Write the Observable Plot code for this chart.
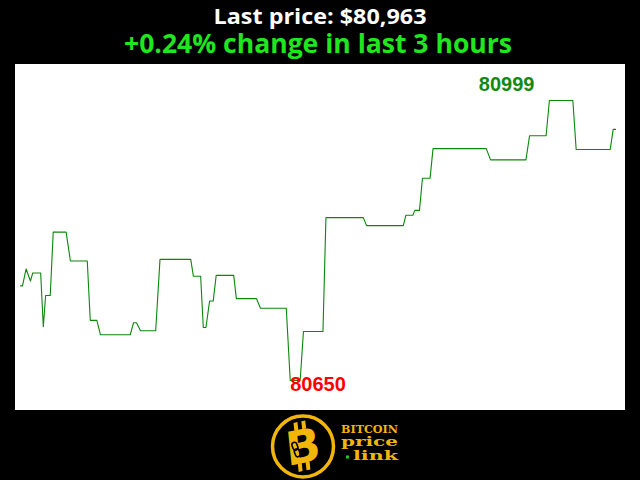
<!DOCTYPE html>
<html>
<head>
<meta charset="utf-8">
<script src="https://cdn.jsdelivr.net/npm/d3@7"></script>
<script src="https://cdn.jsdelivr.net/npm/@observablehq/plot@0.6"></script>
<style>
  html, body { margin: 0; padding: 0; background: #000; width: 640px; height: 480px; overflow: hidden; }
  #wrap { position: relative; width: 640px; height: 480px; }
  #head { position: absolute; left: 0; top: 0; }
  #chart { position: absolute; left: 15px; top: 64px; }
  #logo { position: absolute; left: 0; top: 408px; }
</style>
</head>
<body>
<div id="wrap">
  <svg id="head" width="640" height="64">
    <text id="t1" x="320" y="24" text-anchor="middle" fill="#ffffff" font-family="Open Sans, Noto Sans, sans-serif" font-weight="bold" font-size="21" textLength="213" lengthAdjust="spacingAndGlyphs"></text>
    <text id="t2" x="318" y="53" text-anchor="middle" fill="#1fe61f" font-family="Open Sans, Noto Sans, sans-serif" font-weight="bold" font-size="27" textLength="388" lengthAdjust="spacingAndGlyphs"></text>
  </svg>
  <div id="chart"></div>
  <svg id="logo" width="640" height="72">
    <g transform="translate(303,38.5)">
      <circle r="30.5" fill="#000" stroke="#f2b50a" stroke-width="3.5"></circle>
      <g transform="rotate(-12) skewX(-6)" fill="#f2b50a">
        <rect x="-7" y="-25" width="4" height="8"></rect>
        <rect x="1" y="-25" width="4" height="8"></rect>
        <rect x="-7" y="16" width="4" height="8"></rect>
        <rect x="1" y="16" width="4" height="8"></rect>
        <text x="0" y="16" text-anchor="middle" font-family="DejaVu Sans, sans-serif" font-weight="bold" font-size="46">B</text>
      </g>
      <g transform="rotate(-20)" fill="none" stroke="#000" stroke-width="1.6">
        <rect x="-10" y="-7" width="5" height="8" rx="2.5"></rect>
        <rect x="-10" y="0" width="5" height="8" rx="2.5"></rect>
      </g>
    </g>
    <text id="l1" x="341" y="25" fill="#f2b50a" font-family="DejaVu Serif, Liberation Mono, monospace" font-weight="bold" font-size="11" textLength="57" lengthAdjust="spacingAndGlyphs"></text>
    <text id="l2" x="341" y="38" fill="#f2b50a" font-family="DejaVu Serif, Liberation Mono, monospace" font-weight="bold" font-size="12" textLength="57" lengthAdjust="spacingAndGlyphs"></text>
    <rect x="346" y="47.5" width="3" height="3" fill="#2cc12c"></rect>
    <text id="l3" x="353" y="52" fill="#f2b50a" font-family="DejaVu Serif, Liberation Mono, monospace" font-weight="bold" font-size="12" textLength="45" lengthAdjust="spacingAndGlyphs"></text>
  </svg>
</div>
<script>
// ---- data ----
const titleText = "Last price: $80,963";
const subtitleText = "+0.24% change in last 3 hours";
const logoLines = ["BITCOIN", "price", "link"];

// minutes since start of the 3-hour window (vertices of the price path)
const minutes = [0, 0.6, 1.7, 3, 3.7, 6.1, 6.9, 7.6, 9, 9.9, 13.8, 15.1, 20.2, 21.1, 23.1, 24.2,
  33.2, 34.2, 35.1, 36.3, 40.9, 42.2, 51.5, 52.3, 54.5, 55.3, 56.1, 57.2, 58.3, 59.2, 64.5, 65.3,
  71.4, 72.6, 80.4, 81.6, 84.6, 85.6, 91.5, 92.4, 103.7, 104.7, 115.8, 116.6, 118.7, 119.3, 120.7,
  121.6, 123.9, 124.8, 140.9, 142.2, 152.9, 154, 159, 160, 167.1, 168.1, 178.4, 179.3, 180];

const prices = [80768, 80768, 80789, 80774, 80784, 80784, 80717, 80756, 80756, 80835, 80835, 80799,
  80799, 80725, 80725, 80707, 80707, 80722, 80722, 80712, 80712, 80801, 80801, 80780, 80780, 80716,
  80716, 80749, 80749, 80781, 80781, 80752, 80752, 80740, 80740, 80650, 80650, 80711, 80711, 80853,
  80853, 80843, 80843, 80856, 80856, 80862, 80862, 80902, 80902, 80939, 80939, 80925, 80925, 80955,
  80955, 80999, 80999, 80938, 80938, 80963, 80963];

const data = minutes.map((m, i) => ({m, p: prices[i]}));
const maxPt = data[d3.maxIndex(data, d => d.p)];
const minPt = data[d3.minIndex(data, d => d.p)];

document.getElementById("t1").textContent = titleText;
document.getElementById("t2").textContent = subtitleText;
document.getElementById("l1").textContent = logoLines[0];
document.getElementById("l2").textContent = logoLines[1];
document.getElementById("l3").textContent = logoLines[2];

const chart = Plot.plot({
  width: 610,
  height: 346,
  marginLeft: 5,
  marginRight: 10,
  marginTop: 36,
  marginBottom: 30,
  style: {background: "#ffffff", overflow: "visible"},
  x: {domain: [0, 180], axis: null},
  y: {domain: [80650, 80999], axis: null},
  marks: [
    Plot.line(data, {x: "m", y: "p", stroke: "#0a880a", strokeWidth: 1.1}),
    Plot.text([maxPt], {x: "m", y: "p", text: d => String(d.p), fill: "#128a12",
      textAnchor: "end", lineAnchor: "bottom", dx: -15, dy: -10,
      fontSize: 20, fontWeight: "bold", fontFamily: "Liberation Sans, Arial, sans-serif"}),
    Plot.text([minPt], {x: "m", y: "p", text: d => String(d.p), fill: "#ff0000",
      textAnchor: "start", lineAnchor: "bottom", dx: 0, dy: 10,
      fontSize: 20, fontWeight: "bold", fontFamily: "Liberation Sans, Arial, sans-serif"})
  ]
});
document.getElementById("chart").appendChild(chart);
</script>
</body>
</html>
